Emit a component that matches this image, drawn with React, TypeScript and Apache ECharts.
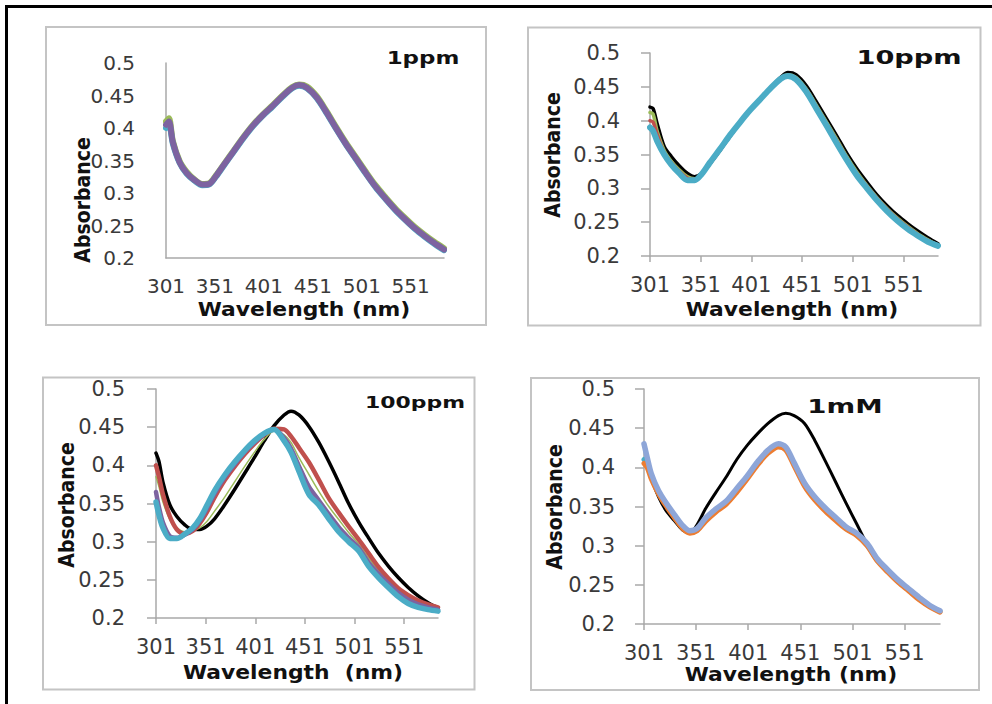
import React, { useEffect, useRef } from "react";
import * as echarts from "echarts";

// ---------- data ----------
const wavelengths = [301, 304, 308, 315, 322, 330, 338, 345, 352, 360, 370, 380, 390, 400, 410, 420, 430, 437, 445, 455, 465, 475, 485, 495, 505, 515, 525, 535, 545, 555, 565, 575, 585];
const xTickLabels = [301, 351, 401, 451, 501, 551];
const yMin = 0.2;
const yMax = 0.5;
const yStep = 0.05;

// 1 ppm
const p1Green = [0.41, 0.415, 0.38, 0.349, 0.333, 0.321, 0.314, 0.315, 0.327, 0.344, 0.365, 0.386, 0.405, 0.421, 0.435, 0.45, 0.463, 0.467, 0.464, 0.449, 0.426, 0.401, 0.377, 0.355, 0.333, 0.312, 0.294, 0.277, 0.262, 0.248, 0.236, 0.225, 0.215];
const p1Cyan = [0.4, 0.405, 0.376, 0.346, 0.33, 0.319, 0.312, 0.313, 0.325, 0.342, 0.363, 0.384, 0.403, 0.419, 0.433, 0.448, 0.461, 0.465, 0.461, 0.446, 0.423, 0.398, 0.374, 0.352, 0.33, 0.309, 0.291, 0.274, 0.259, 0.245, 0.233, 0.222, 0.212];
const p1Purple = [0.405, 0.41, 0.378, 0.347, 0.331, 0.32, 0.313, 0.314, 0.326, 0.343, 0.364, 0.385, 0.404, 0.42, 0.434, 0.449, 0.462, 0.466, 0.462, 0.447, 0.424, 0.399, 0.375, 0.353, 0.331, 0.31, 0.292, 0.275, 0.26, 0.246, 0.234, 0.223, 0.213];

// 10 ppm
const p2Black = [0.42, 0.418, 0.396, 0.362, 0.347, 0.333, 0.322, 0.317, 0.322, 0.336, 0.356, 0.377, 0.397, 0.416, 0.433, 0.449, 0.464, 0.471, 0.468, 0.452, 0.428, 0.403, 0.378, 0.352, 0.329, 0.309, 0.29, 0.274, 0.26, 0.248, 0.237, 0.227, 0.218];
const p2Green = [0.412, 0.41, 0.385, 0.356, 0.34, 0.327, 0.317, 0.314, 0.321, 0.337, 0.357, 0.378, 0.397, 0.416, 0.433, 0.448, 0.463, 0.468, 0.464, 0.447, 0.423, 0.398, 0.373, 0.347, 0.324, 0.304, 0.286, 0.27, 0.256, 0.244, 0.233, 0.224, 0.216];
const p2Red = [0.4, 0.398, 0.38, 0.353, 0.338, 0.325, 0.315, 0.313, 0.321, 0.337, 0.357, 0.378, 0.398, 0.416, 0.432, 0.448, 0.463, 0.467, 0.463, 0.446, 0.421, 0.396, 0.371, 0.345, 0.322, 0.303, 0.285, 0.269, 0.255, 0.243, 0.232, 0.223, 0.216];
const p2Cyan = [0.39, 0.385, 0.37, 0.35, 0.335, 0.322, 0.312, 0.312, 0.321, 0.338, 0.358, 0.379, 0.398, 0.416, 0.432, 0.448, 0.462, 0.466, 0.461, 0.443, 0.418, 0.393, 0.367, 0.342, 0.319, 0.3, 0.282, 0.266, 0.252, 0.24, 0.23, 0.221, 0.215];

// 100 ppm
const p3Black = [0.416, 0.405, 0.378, 0.348, 0.333, 0.322, 0.316, 0.316, 0.32, 0.33, 0.348, 0.368, 0.389, 0.41, 0.432, 0.452, 0.466, 0.471, 0.466, 0.451, 0.43, 0.405, 0.378, 0.35, 0.326, 0.305, 0.285, 0.268, 0.253, 0.24, 0.229, 0.22, 0.213];
const p3Green = [0.385, 0.372, 0.352, 0.329, 0.318, 0.313, 0.314, 0.318, 0.326, 0.34, 0.358, 0.378, 0.398, 0.417, 0.434, 0.445, 0.44, 0.43, 0.41, 0.388, 0.366, 0.346, 0.329, 0.312, 0.297, 0.279, 0.262, 0.248, 0.236, 0.227, 0.22, 0.216, 0.213];
const p3Red = [0.4, 0.385, 0.362, 0.333, 0.316, 0.31, 0.314, 0.324, 0.338, 0.358, 0.38, 0.398, 0.414, 0.428, 0.44, 0.448, 0.447, 0.438, 0.423, 0.404, 0.381, 0.357, 0.338, 0.32, 0.303, 0.285, 0.267, 0.252, 0.239, 0.23, 0.223, 0.218, 0.214];
const p3Purple = [0.365, 0.345, 0.325, 0.307, 0.305, 0.309, 0.316, 0.327, 0.343, 0.363, 0.384, 0.401, 0.417, 0.43, 0.441, 0.447, 0.436, 0.422, 0.399, 0.372, 0.354, 0.336, 0.319, 0.305, 0.292, 0.273, 0.258, 0.245, 0.233, 0.224, 0.218, 0.214, 0.211];
const p3Cyan = [0.352, 0.335, 0.318, 0.304, 0.304, 0.31, 0.318, 0.33, 0.347, 0.367, 0.387, 0.404, 0.419, 0.432, 0.442, 0.447, 0.432, 0.417, 0.392, 0.362, 0.348, 0.33, 0.313, 0.3, 0.288, 0.268, 0.253, 0.24, 0.228, 0.219, 0.214, 0.211, 0.209];

// 1 mM
const p4Black = [0.41, 0.4, 0.385, 0.362, 0.345, 0.332, 0.32, 0.316, 0.327, 0.347, 0.368, 0.388, 0.41, 0.428, 0.443, 0.456, 0.466, 0.469, 0.466, 0.456, 0.434, 0.408, 0.381, 0.354, 0.328, 0.302, 0.282, 0.267, 0.254, 0.243, 0.232, 0.223, 0.215];
const p4Cyan = [0.41, 0.405, 0.388, 0.368, 0.353, 0.338, 0.324, 0.317, 0.32, 0.333, 0.345, 0.355, 0.37, 0.387, 0.405, 0.42, 0.428, 0.424, 0.404, 0.378, 0.36, 0.346, 0.334, 0.322, 0.314, 0.301, 0.281, 0.267, 0.254, 0.243, 0.232, 0.223, 0.216];
const p4Orange = [0.405, 0.4, 0.385, 0.366, 0.351, 0.336, 0.322, 0.316, 0.319, 0.331, 0.343, 0.353, 0.368, 0.385, 0.403, 0.418, 0.426, 0.422, 0.402, 0.376, 0.358, 0.344, 0.332, 0.321, 0.313, 0.3, 0.28, 0.266, 0.253, 0.242, 0.231, 0.222, 0.215];
const p4Blue = [0.43, 0.413, 0.392, 0.37, 0.355, 0.34, 0.326, 0.319, 0.322, 0.335, 0.347, 0.357, 0.373, 0.389, 0.407, 0.422, 0.43, 0.426, 0.406, 0.38, 0.362, 0.348, 0.336, 0.324, 0.316, 0.303, 0.283, 0.269, 0.256, 0.245, 0.234, 0.224, 0.217];

const panelTitles = ["1ppm", "10ppm", "100ppm", "1mM"];
const xAxisTitles = ["Wavelength (nm)", "Wavelength (nm)", "Wavelength  (nm)", "Wavelength (nm)"];
const yAxisTitle = "Absorbance";

// ---------- layout & styles ----------
const BLACK = "#000000";
const GREEN = "#9BBB59";
const CYAN = "#4BACC6";
const PURPLE = "#7D63A0";
const RED = "#C0504D";
const ORANGE = "#ED7D31";
const BLUE = "#8EA6D8";

const panels = [
  {
    frame: { x: 46, y: 27, width: 440, height: 298 },
    grid: { left: 166, top: 63, width: 278, height: 195 },
    ticks: false,
    labelSize: 20,
    yLabelMargin: 31,
    xLabelMargin: 18,
    title: { x: 423, y: 58, size: 17, scaleX: 1.35 },
    xName: { x: 304, y: 310 },
    yName: { x: 83, y: 200 },
    series: [
      { data: p1Green, color: GREEN, width: 6 },
      { data: p1Cyan, color: CYAN, width: 6 },
      { data: p1Purple, color: PURPLE, width: 6 },
    ],
  },
  {
    frame: { x: 528, y: 27.5, width: 452.5, height: 298 },
    grid: { left: 650, top: 53, width: 288, height: 203 },
    ticks: true,
    labelSize: 21,
    yLabelMargin: 30,
    xLabelMargin: 18,
    title: { x: 909, y: 57, size: 20, scaleX: 1.36 },
    xName: { x: 792, y: 310 },
    yName: { x: 553, y: 155 },
    series: [
      { data: p2Black, color: BLACK, width: 3.5 },
      { data: p2Green, color: GREEN, width: 3.5 },
      { data: p2Red, color: RED, width: 3.5 },
      { data: p2Cyan, color: CYAN, width: 6 },
    ],
  },
  {
    frame: { x: 43, y: 377.5, width: 431.5, height: 312 },
    grid: { left: 156, top: 389, width: 282, height: 229 },
    ticks: true,
    labelSize: 21,
    yLabelMargin: 31,
    xLabelMargin: 18,
    title: { x: 415, y: 403, size: 16, scaleX: 1.37 },
    xName: { x: 293, y: 673 },
    yName: { x: 67, y: 505 },
    series: [
      { data: p3Black, color: BLACK, width: 3.5 },
      { data: p3Green, color: GREEN, width: 1.5 },
      { data: p3Red, color: RED, width: 4.5 },
      { data: p3Purple, color: PURPLE, width: 4.5 },
      { data: p3Cyan, color: CYAN, width: 5.5 },
    ],
  },
  {
    frame: { x: 531, y: 378, width: 448, height: 312 },
    grid: { left: 644, top: 389, width: 296, height: 235 },
    ticks: true,
    labelSize: 21,
    yLabelMargin: 29,
    xLabelMargin: 18,
    title: { x: 845, y: 407, size: 19, scaleX: 1.45 },
    xName: { x: 791, y: 675 },
    yName: { x: 555, y: 507 },
    series: [
      { data: p4Black, color: BLACK, width: 3 },
      { data: p4Cyan, color: CYAN, width: 5 },
      { data: p4Orange, color: ORANGE, width: 5 },
      { data: p4Blue, color: BLUE, width: 5.5 },
    ],
  },
];

const AXIS_COLOR = "#a9a9a9";
const LABEL_COLOR = "#3a3a3a";
const LABEL_FONT = "'DejaVu Sans', Verdana, sans-serif";

function buildOption() {
  const grid = panels.map((p) => ({ ...p.grid, containLabel: false }));
  const xAxis = panels.map((p, i) => ({
    type: "value",
    gridIndex: i,
    min: wavelengths[0],
    max: wavelengths[wavelengths.length - 1],
    axisLine: { show: true, onZero: false, lineStyle: { color: AXIS_COLOR, width: 1.5 } },
    axisTick: { show: p.ticks, customValues: xTickLabels, length: 6, lineStyle: { color: AXIS_COLOR, width: 1.5 } },
    axisLabel: {
      customValues: xTickLabels,
      margin: p.xLabelMargin,
      fontSize: p.labelSize,
      fontFamily: LABEL_FONT,
      color: LABEL_COLOR,
    },
    splitLine: { show: false },
  }));
  const yAxis = panels.map((p, i) => ({
    type: "value",
    gridIndex: i,
    min: yMin,
    max: yMax,
    interval: yStep,
    axisLine: { show: true, lineStyle: { color: AXIS_COLOR, width: 1.5 } },
    axisTick: { show: p.ticks, length: 9, lineStyle: { color: AXIS_COLOR, width: 1.5 } },
    axisLabel: {
      margin: p.yLabelMargin,
      fontSize: p.labelSize,
      fontFamily: LABEL_FONT,
      color: LABEL_COLOR,
    },
    splitLine: { show: false },
  }));
  const series: any[] = [];
  panels.forEach((p, i) => {
    p.series.forEach((s) => {
      series.push({
        type: "line",
        xAxisIndex: i,
        yAxisIndex: i,
        data: wavelengths.map((w, k) => [w, s.data[k]]),
        showSymbol: false,
        symbol: "none",
        smooth: 0.3,
        lineStyle: { color: s.color, width: s.width, cap: "round", join: "round" },
        silent: true,
      });
    });
  });

  const graphic: any[] = [
    { type: "line", shape: { x1: 5, y1: 6.5, x2: 992, y2: 6.5 }, style: { stroke: "#000", lineWidth: 3 }, z: 10 },
    { type: "line", shape: { x1: 6.5, y1: 5, x2: 6.5, y2: 704 }, style: { stroke: "#000", lineWidth: 3 }, z: 10 },
  ];
  panels.forEach((p, i) => {
    graphic.push({
      type: "rect",
      shape: { ...p.frame },
      style: { fill: "none", stroke: "#c4c4c4", lineWidth: 2 },
      z: -1,
    });
    graphic.push({
      type: "text",
      x: p.title.x,
      y: p.title.y,
      scaleX: p.title.scaleX,
      style: {
        text: panelTitles[i],
        font: `bold ${p.title.size}px 'DejaVu Sans', Verdana, sans-serif`,
        fill: "#111",
        align: "center",
        verticalAlign: "middle",
        textAlign: "center",
        textVerticalAlign: "middle",
      },
    });
    graphic.push({
      type: "text",
      x: p.xName.x,
      y: p.xName.y,
      scaleX: 1.15,
      style: {
        text: xAxisTitles[i],
        font: `bold 19px 'DejaVu Sans', Verdana, sans-serif`,
        fill: "#111",
        align: "center",
        verticalAlign: "middle",
        textAlign: "center",
        textVerticalAlign: "middle",
      },
    });
    graphic.push({
      type: "text",
      x: p.yName.x,
      y: p.yName.y,
      rotation: Math.PI / 2,
      style: {
        text: yAxisTitle,
        font: `bold 21px 'Liberation Sans Narrow', 'DejaVu Sans Condensed', sans-serif`,
        fill: "#111",
        align: "center",
        verticalAlign: "middle",
        textAlign: "center",
        textVerticalAlign: "middle",
      },
    });
  });

  return {
    animation: false,
    backgroundColor: "#ffffff",
    grid,
    xAxis,
    yAxis,
    series,
    graphic,
  };
}

export default function App() {
  const ref = useRef<HTMLDivElement>(null);
  useEffect(() => {
    if (!ref.current) return;
    const chart = echarts.init(ref.current, null, { renderer: "svg" });
    chart.setOption(buildOption() as any);
    return () => chart.dispose();
  }, []);
  return (
    <div
      ref={ref}
      style={{ position: "absolute", left: 0, top: 0, width: 992, height: 704, background: "#fff" }}
    />
  );
}
